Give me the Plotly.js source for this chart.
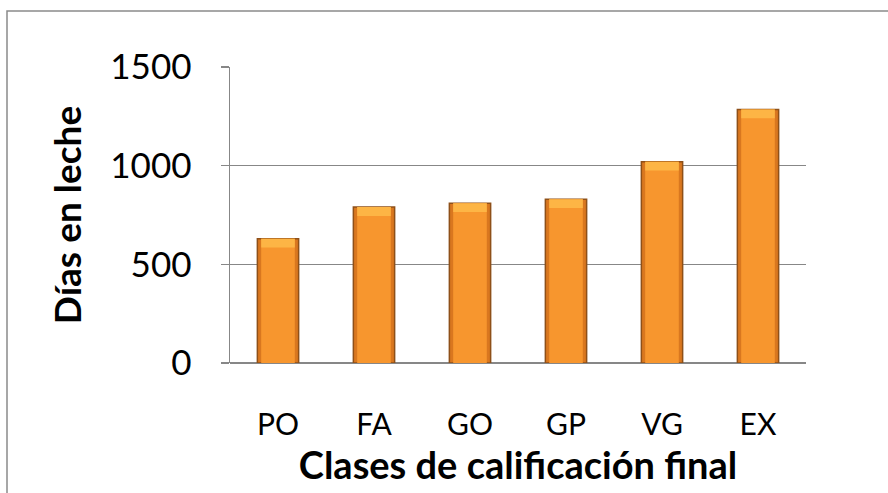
<!DOCTYPE html>
<html>
<head>
<meta charset="utf-8">
<script src="https://cdn.plot.ly/plotly-3.0.1.min.js"></script>
<style>html,body{margin:0;padding:0;background:#fff;}#chart{width:888px;height:493px;}</style>
</head>
<body>
<div id="chart"></div>
<script>
var categories = ["PO", "FA", "GO", "GP", "VG", "EX"];
var diasEnLeche = [630, 790, 810, 830, 1020, 1285];
var yTicks = [0, 500, 1000, 1500];

// bevel styling: thickness of the lighter top band, in data units
var bevel = 45;

var barOuter = {
  type: "bar", x: categories, y: diasEnLeche, width: 0.43,
  marker: {color: "#D9771F", line: {color: "#8E5019", width: 1.5}},
  hoverinfo: "x+y"
};
var barInner = {
  type: "bar", x: categories, y: diasEnLeche, width: 0.35,
  marker: {color: "#F7962E", line: {width: 0}},
  hoverinfo: "skip"
};
var barTop = {
  type: "bar", x: categories,
  y: diasEnLeche.map(function(){ return bevel; }),
  base: diasEnLeche.map(function(v){ return v - bevel; }),
  width: 0.35,
  marker: {color: "#FDB545", line: {width: 0}},
  hoverinfo: "skip"
};

var layout = {
  width: 888,
  height: 493,
  margin: {l: 230, r: 82, t: 67, b: 130},
  barmode: "overlay",
  paper_bgcolor: "#ffffff",
  plot_bgcolor: "#ffffff",
  showlegend: false,
  font: {family: "Lato, 'Open Sans', sans-serif", color: "#000"},
  xaxis: {
    type: "category",
    showgrid: false,
    showline: false,
    zeroline: false,
    ticks: "",
    tickfont: {size: 30, family: "Lato, sans-serif"},
    ticklabelstandoff: 41,
    title: {text: "Clases de calificación final", font: {size: 38, family: "Lato, sans-serif", weight: "bold"}, standoff: 2}
  },
  yaxis: {
    range: [0, 1500],
    tickvals: yTicks,
    ticktext: yTicks.map(String),
    showgrid: true,
    gridcolor: "#878787",
    gridwidth: 1.5,
    showline: true,
    linecolor: "#878787",
    linewidth: 1.5,
    zeroline: true,
    zerolinecolor: "#878787",
    zerolinewidth: 1.5,
    ticks: "outside",
    ticklen: 8,
    tickcolor: "#878787",
    tickwidth: 1.5,
    tickfont: {size: 35, family: "Lato, sans-serif"},
    ticklabelstandoff: 22,
    title: {text: "Días en leche", font: {size: 37, family: "Lato, sans-serif", weight: "bold"}, standoff: 17}
  },
  shapes: [{
    type: "rect", xref: "paper", yref: "paper",
    x0: -223/576, x1: 878/576,
    y0: -200/296, y1: (493 - 11 - 130) / 296,
    line: {color: "#8a8a8a", width: 1.5},
    fillcolor: "rgba(0,0,0,0)",
    layer: "below"
  }]
};

Plotly.newPlot("chart", [barOuter, barInner, barTop], layout, {displayModeBar: false, staticPlot: true});
</script>
</body>
</html>
